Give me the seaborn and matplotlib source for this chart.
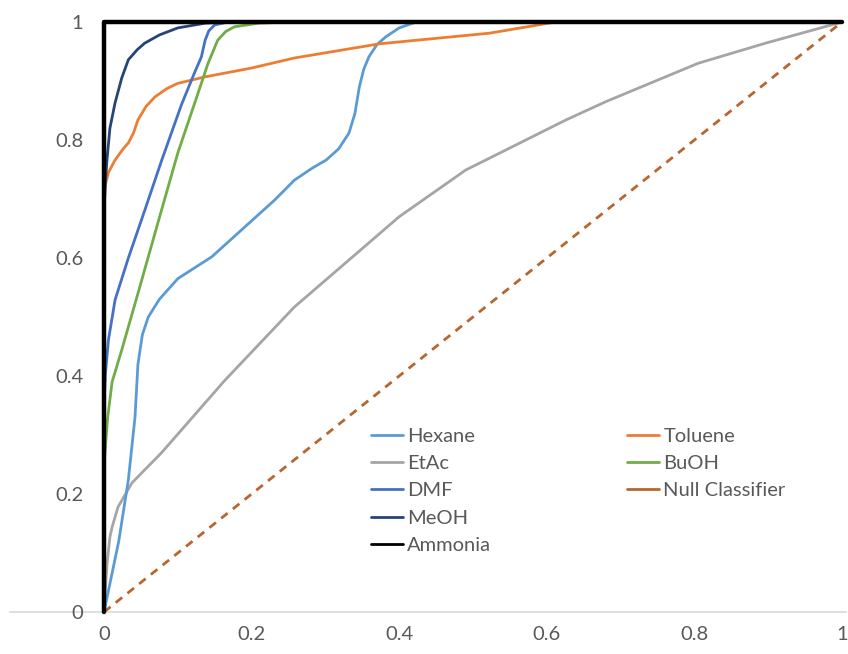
import matplotlib
matplotlib.use("Agg")
import matplotlib.pyplot as plt
from matplotlib.lines import Line2D
import numpy as np
import pandas as pd
import seaborn as sns

# ROC curves (false positive rate, true positive rate)
hexane_x = [0, 0.02, 0.033, 0.042, 0.046, 0.052, 0.06, 0.075, 0.1, 0.146, 0.2, 0.231, 0.258,
            0.283, 0.301, 0.318, 0.332, 0.34, 0.346, 0.352, 0.359, 0.37, 0.382, 0.4, 0.423, 0.44, 1.0]
hexane_y = [0, 0.12, 0.224, 0.33, 0.42, 0.47, 0.5, 0.53, 0.565, 0.602, 0.663, 0.698, 0.732,
            0.753, 0.766, 0.785, 0.812, 0.845, 0.89, 0.92, 0.941, 0.962, 0.975, 0.99, 1.0, 1.0, 1.0]

etac_x = [0, 0.004, 0.008, 0.011, 0.019, 0.038, 0.078, 0.164, 0.258, 0.4, 0.49, 0.626, 0.68,
          0.805, 0.896, 1.0]
etac_y = [0, 0.08, 0.127, 0.144, 0.178, 0.219, 0.27, 0.393, 0.517, 0.67, 0.749, 0.834, 0.865,
          0.93, 0.964, 1.0]

dmf_x = [0, 0, 0.002, 0.006, 0.015, 0.033, 0.055, 0.078, 0.105, 0.123, 0.132, 0.137, 0.142,
         0.15, 0.168, 1.0]
dmf_y = [0, 0.35, 0.405, 0.461, 0.529, 0.6, 0.68, 0.765, 0.86, 0.915, 0.941, 0.969, 0.985,
         0.995, 1.0, 1.0]

meoh_x = [0, 0, 0.002, 0.004, 0.008, 0.015, 0.024, 0.033, 0.045, 0.055, 0.075, 0.1, 0.137, 0.17, 1.0]
meoh_y = [0, 0.68, 0.73, 0.766, 0.82, 0.863, 0.905, 0.936, 0.953, 0.964, 0.978, 0.99, 0.998, 1.0, 1.0]

toluene_x = [0, 0, 0.001, 0.006, 0.015, 0.026, 0.033, 0.04, 0.046, 0.057, 0.069, 0.085, 0.1,
             0.137, 0.2, 0.258, 0.373, 0.522, 0.612, 1.0]
toluene_y = [0, 0.65, 0.72, 0.745, 0.766, 0.785, 0.795, 0.812, 0.834, 0.857, 0.873, 0.887, 0.896,
             0.907, 0.922, 0.939, 0.963, 0.981, 1.0, 1.0]

buoh_x = [0, 0, 0.005, 0.011, 0.024, 0.046, 0.072, 0.1, 0.123, 0.141, 0.154, 0.165, 0.177, 0.21, 0.25, 1.0]
buoh_y = [0, 0.25, 0.33, 0.39, 0.444, 0.54, 0.655, 0.778, 0.863, 0.93, 0.969, 0.984, 0.992, 0.998, 1.0, 1.0]

null_x = [0, 1]
null_y = [0, 1]

ammonia_x = [0, 0, 1]
ammonia_y = [0, 1, 1]

ticks = [0, 0.2, 0.4, 0.6, 0.8, 1]
tick_labels = ["0", "0.2", "0.4", "0.6", "0.8", "1"]

sns.set_theme(style="white")
plt.rcParams['font.family'] = ['Lato', 'DejaVu Sans']

fig = plt.figure(figsize=(8.48, 6.54), dpi=100)
ax = fig.add_axes([104 / 848, 42 / 654, 738 / 848, 590 / 654])

series = [
    ("Null Classifier", null_x, null_y, "#B8652E", 2.0, (0, (3, 2.4))),
    ("EtAc", etac_x, etac_y, "#A5A5A5", 2.0, "-"),
    ("Hexane", hexane_x, hexane_y, "#5B9BD5", 2.0, "-"),
    ("Toluene", toluene_x, toluene_y, "#ED7D31", 2.0, "-"),
    ("BuOH", buoh_x, buoh_y, "#70AD47", 2.0, "-"),
    ("DMF", dmf_x, dmf_y, "#4472C4", 2.0, "-"),
    ("MeOH", meoh_x, meoh_y, "#264478", 2.0, "-"),
    ("Ammonia", ammonia_x, ammonia_y, "#000000", 3.2, "-"),
]
colors = {}
for name, xs, ys, col, lw, ls in series:
    df = pd.DataFrame({"fpr": xs, "tpr": ys})
    sns.lineplot(data=df, x="fpr", y="tpr", sort=False, estimator=None, color=col,
                 linewidth=lw, linestyle=ls, ax=ax, clip_on=False)
    colors[name] = col

ax.set_xlim(0, 1)
ax.set_ylim(0, 1)
ax.set_xticks(ticks)
ax.set_xticklabels(tick_labels)
ax.set_yticks(ticks)
ax.set_yticklabels(tick_labels)
ax.set_xlabel("")
ax.set_ylabel("")
ax.tick_params(axis="both", length=0, labelsize=14.5, labelcolor="#595959")
ax.tick_params(axis="x", pad=10)
ax.tick_params(axis="y", pad=15)
for s in ["top", "right", "left"]:
    ax.spines[s].set_visible(False)
ax.spines["bottom"].set_color("#D9D9D9")
ax.spines["bottom"].set_linewidth(1.2)
ax.spines["bottom"].set_bounds(-0.127, 1.005)
ax.spines["bottom"].set_zorder(0)

order = ["Hexane", "EtAc", "DMF", "MeOH", "Ammonia", "Toluene", "BuOH", "Null Classifier", "", ""]
handles = []
for name in order:
    if name:
        handles.append(Line2D([], [], color=colors[name], lw=2.0))
    else:
        handles.append(Line2D([], [], color="none"))
leg = ax.legend(handles, order, ncol=2, loc="upper left", bbox_to_anchor=(371 / 848, 1 - 428 / 654),
                bbox_transform=fig.transFigure, frameon=False, fontsize=14.5, handlelength=1.6,
                handletextpad=0.2, columnspacing=6.75, labelspacing=0.5, borderaxespad=0, borderpad=0)
for t in leg.get_texts():
    t.set_color("#595959")

fig.savefig("out.png", dpi=100)
